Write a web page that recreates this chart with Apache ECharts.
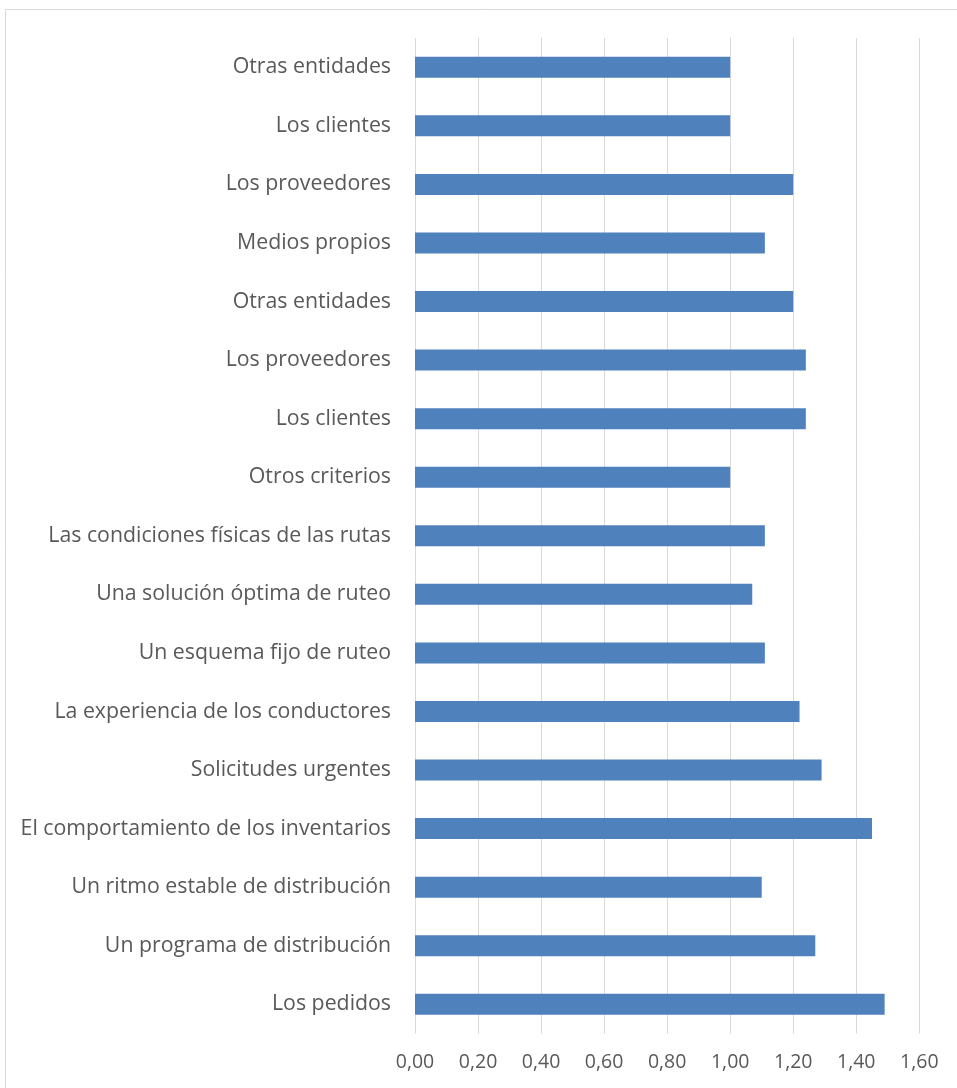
<!DOCTYPE html>
<html>
<head>
<meta charset="utf-8">
<script src="https://cdn.jsdelivr.net/npm/echarts@6/dist/echarts.min.js"></script>
<style>
html,body{margin:0;padding:0;background:#fff;}
#c{width:957px;height:1088px;}
</style>
</head>
<body>
<div id="c"></div>
<script>
// Categories listed bottom to top (ECharts category axis order)
const categories = [
  "Los pedidos",
  "Un programa de distribución",
  "Un ritmo estable de distribución",
  "El comportamiento de los inventarios",
  "Solicitudes urgentes",
  "La experiencia de los conductores",
  "Un esquema fijo de ruteo",
  "Una solución óptima de ruteo",
  "Las condiciones físicas de las rutas",
  "Otros criterios",
  "Los clientes",
  "Los proveedores",
  "Otras entidades",
  "Medios propios",
  "Los proveedores",
  "Los clientes",
  "Otras entidades"
];
const values = [1.49, 1.27, 1.10, 1.45, 1.29, 1.22, 1.11, 1.07, 1.11, 1.00, 1.24, 1.24, 1.20, 1.11, 1.20, 1.00, 1.00];
const xTicks = [0, 0.2, 0.4, 0.6, 0.8, 1.0, 1.2, 1.4, 1.6];

const chart = echarts.init(document.getElementById('c'), null, {renderer: 'canvas'});
const font = '"Open Sans", "Noto Sans", sans-serif';
chart.setOption({
  animation: false,
  backgroundColor: '#ffffff',
  graphic: [{
    type: 'rect',
    shape: {x: 5.5, y: 9.5, width: 1000, height: 1200},
    style: {fill: 'none', stroke: '#d9d9d9', lineWidth: 1},
    silent: true
  }],
  grid: {left: 415, right: 37.7, top: 38, bottom: 54.4, containLabel: false},
  xAxis: {
    type: 'value',
    min: xTicks[0],
    max: xTicks[xTicks.length - 1],
    interval: 0.2,
    axisLine: {show: false},
    axisTick: {show: false},
    splitLine: {show: true, lineStyle: {color: '#d9d9d9', width: 1}},
    axisLabel: {
      color: '#595959', fontFamily: font, fontSize: 19.5, margin: 19,
      formatter: v => v.toFixed(2).replace('.', ',')
    }
  },
  yAxis: {
    type: 'category',
    data: categories,
    axisLine: {show: false},
    axisTick: {show: false},
    splitLine: {show: false},
    axisLabel: {color: '#595959', fontFamily: font, fontSize: 21.3, margin: 24}
  },
  series: [{
    type: 'bar',
    data: values,
    barWidth: 21,
    itemStyle: {color: '#4f81bd'}
  }]
});
</script>
</body>
</html>
